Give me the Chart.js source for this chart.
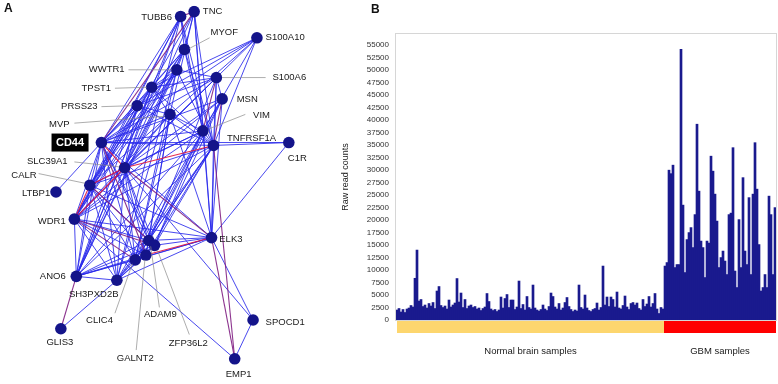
<!DOCTYPE html>
<html>
<head>
<meta charset="utf-8">
<script src="https://cdn.jsdelivr.net/npm/chart.js@4.4.0/dist/chart.umd.min.js"></script>
<style>
  body { margin: 0; background: #fff; }
  #wrap { position: relative; width: 778px; height: 384px; overflow: hidden; font-family: "Liberation Sans", Arial, sans-serif; }
  #netChart { position: absolute; left: 0; top: 0; }
  #barChart { position: absolute; left: 340px; top: 0; }
  .panel { position: absolute; font-weight: bold; font-size: 12px; color: #111; }
</style>
</head>
<body>
<div id="wrap">
  <canvas id="netChart" width="340" height="384"></canvas>
  <canvas id="barChart" width="438" height="384"></canvas>
  <div class="panel" style="left:4px;top:1px">A</div>
  <div class="panel" style="left:371px;top:2px">B</div>
</div>
<script>
// ---- Panel A: co-expression network ----
const geneNames = ['TUBB6', 'TNC', 'MYOF', 'S100A10', 'WWTR1', 'S100A6', 'TPST1', 'MSN', 'PRSS23', 'MVP',
  'VIM', 'CD44', 'TNFRSF1A', 'C1R', 'SLC39A1', 'CALR', 'LTBP1', 'WDR1', 'ELK3', 'ADAM9',
  'ZFP36L2', 'GALNT2', 'CLIC4', 'ANO6', 'SH3PXD2B', 'SPOCD1', 'GLIS3', 'EMP1'];
const geneX = [181, 195, 185, 260, 177, 218, 151, 224, 136, 170,
  204, 99, 215, 293, 123, 87, 52, 71, 213, 148,
  154, 145, 134, 73, 115, 256, 57, 237];
const geneY = [11, 6, 45, 33, 66, 74, 84, 96, 103, 112,
  129, 141, 144, 141, 167, 185, 192, 220, 239, 242,
  247, 257, 262, 279, 283, 324, 333, 364];

const blueEdges = [
  ['CD44', 'TUBB6'], ['CD44', 'MYOF'], ['CD44', 'WWTR1'], ['CD44', 'S100A6'], ['CD44', 'TPST1'],
  ['CD44', 'PRSS23'], ['CD44', 'MVP'], ['CD44', 'VIM'], ['CD44', 'TNFRSF1A'], ['CD44', 'C1R'],
  ['CD44', 'CALR'], ['CD44', 'LTBP1'], ['CD44', 'WDR1'], ['CD44', 'ELK3'], ['CD44', 'ADAM9'],
  ['CD44', 'ZFP36L2'], ['CD44', 'CLIC4'], ['CD44', 'ANO6'], ['CD44', 'SH3PXD2B'], ['CD44', 'S100A10'],
  ['CD44', 'MSN'],
  ['TUBB6', 'SLC39A1'], ['TUBB6', 'CALR'], ['TUBB6', 'WDR1'], ['TUBB6', 'TNFRSF1A'], ['TUBB6', 'VIM'],
  ['TUBB6', 'MYOF'], ['TUBB6', 'ANO6'], ['TUBB6', 'SH3PXD2B'],
  ['TNC', 'MYOF'], ['TNC', 'TNFRSF1A'], ['TNC', 'VIM'], ['TNC', 'SLC39A1'], ['TNC', 'ELK3'],
  ['TNC', 'WDR1'], ['TNC', 'CLIC4'],
  ['MYOF', 'WWTR1'], ['MYOF', 'TPST1'], ['MYOF', 'SLC39A1'], ['MYOF', 'TNFRSF1A'], ['MYOF', 'VIM'],
  ['MYOF', 'CALR'], ['MYOF', 'WDR1'], ['MYOF', 'ANO6'],
  ['S100A10', 'TPST1'], ['S100A10', 'PRSS23'], ['S100A10', 'VIM'], ['S100A10', 'SLC39A1'], ['S100A10', 'TNFRSF1A'],
  ['S100A10', 'CALR'],
  ['WWTR1', 'S100A6'], ['WWTR1', 'TPST1'], ['WWTR1', 'SLC39A1'], ['WWTR1', 'CALR'], ['WWTR1', 'WDR1'],
  ['WWTR1', 'ANO6'], ['WWTR1', 'SH3PXD2B'], ['WWTR1', 'TNFRSF1A'], ['WWTR1', 'CLIC4'],
  ['S100A6', 'TPST1'], ['S100A6', 'PRSS23'], ['S100A6', 'MSN'], ['S100A6', 'TNFRSF1A'], ['S100A6', 'SLC39A1'],
  ['S100A6', 'ELK3'], ['S100A6', 'WDR1'], ['S100A6', 'ADAM9'],
  ['TPST1', 'PRSS23'], ['TPST1', 'SLC39A1'], ['TPST1', 'CALR'], ['TPST1', 'WDR1'], ['TPST1', 'ANO6'],
  ['TPST1', 'MVP'], ['TPST1', 'TNFRSF1A'],
  ['MSN', 'VIM'], ['MSN', 'SLC39A1'], ['MSN', 'ELK3'], ['MSN', 'ADAM9'], ['MSN', 'ZFP36L2'], ['MSN', 'WDR1'],
  ['PRSS23', 'SLC39A1'], ['PRSS23', 'CALR'], ['PRSS23', 'WDR1'], ['PRSS23', 'ANO6'], ['PRSS23', 'TNFRSF1A'],
  ['PRSS23', 'MVP'],
  ['MVP', 'TNFRSF1A'], ['MVP', 'SLC39A1'], ['MVP', 'WDR1'], ['MVP', 'VIM'], ['MVP', 'ADAM9'], ['MVP', 'GALNT2'],
  ['MVP', 'ELK3'],
  ['VIM', 'TNFRSF1A'], ['VIM', 'SLC39A1'], ['VIM', 'CALR'], ['VIM', 'WDR1'], ['VIM', 'ANO6'], ['VIM', 'ADAM9'],
  ['VIM', 'ZFP36L2'], ['VIM', 'CLIC4'], ['VIM', 'ELK3'], ['VIM', 'SH3PXD2B'],
  ['TNFRSF1A', 'C1R'], ['TNFRSF1A', 'CALR'], ['TNFRSF1A', 'WDR1'], ['TNFRSF1A', 'ADAM9'], ['TNFRSF1A', 'ZFP36L2'],
  ['TNFRSF1A', 'GALNT2'], ['TNFRSF1A', 'CLIC4'], ['TNFRSF1A', 'ANO6'], ['TNFRSF1A', 'SH3PXD2B'], ['TNFRSF1A', 'ELK3'],
  ['C1R', 'ELK3'],
  ['SLC39A1', 'WDR1'], ['SLC39A1', 'ADAM9'], ['SLC39A1', 'ZFP36L2'], ['SLC39A1', 'GALNT2'], ['SLC39A1', 'CLIC4'],
  ['SLC39A1', 'ANO6'], ['SLC39A1', 'SH3PXD2B'], ['SLC39A1', 'SPOCD1'],
  ['CALR', 'ELK3'], ['CALR', 'ZFP36L2'], ['CALR', 'GALNT2'], ['CALR', 'CLIC4'], ['CALR', 'ANO6'], ['CALR', 'SH3PXD2B'],
  ['WDR1', 'ELK3'], ['WDR1', 'ADAM9'], ['WDR1', 'GALNT2'], ['WDR1', 'ANO6'], ['WDR1', 'SH3PXD2B'],
  ['ELK3', 'ADAM9'], ['ELK3', 'ZFP36L2'], ['ELK3', 'CLIC4'], ['ELK3', 'ANO6'], ['ELK3', 'SH3PXD2B'],
  ['ELK3', 'SPOCD1'],
  ['ADAM9', 'ZFP36L2'], ['ADAM9', 'GALNT2'], ['ADAM9', 'CLIC4'], ['ADAM9', 'ANO6'], ['ADAM9', 'SH3PXD2B'],
  ['ZFP36L2', 'GALNT2'], ['ZFP36L2', 'CLIC4'], ['ZFP36L2', 'ANO6'], ['ZFP36L2', 'SH3PXD2B'],
  ['GALNT2', 'CLIC4'], ['GALNT2', 'ANO6'], ['GALNT2', 'SH3PXD2B'],
  ['CLIC4', 'ANO6'], ['CLIC4', 'SH3PXD2B'], ['ANO6', 'SH3PXD2B'],
  ['SH3PXD2B', 'GLIS3'], ['SPOCD1', 'EMP1'], ['WDR1', 'EMP1']
];
const purpleEdges = [
  ['TNC', 'CD44'], ['MSN', 'TNFRSF1A'], ['S100A6', 'VIM'], ['ELK3', 'EMP1'], ['SLC39A1', 'ELK3'],
  ['WDR1', 'ZFP36L2'], ['CD44', 'GALNT2'], ['ANO6', 'GLIS3'], ['WDR1', 'CLIC4'], ['TUBB6', 'TNC'],
  ['TNFRSF1A', 'EMP1'], ['CALR', 'ADAM9']
];
const redEdges = [
  ['SLC39A1', 'TNFRSF1A'], ['CALR', 'SLC39A1'], ['WDR1', 'SLC39A1'], ['GALNT2', 'ELK3'],
  ['CD44', 'SLC39A1'], ['WDR1', 'CALR']
];

// label anchors for the gene names (layout only)
const geneLabels = {
  TUBB6: { x: 172, y: 12, align: 'right' },
  TNC: { x: 204, y: 6, align: 'left' },
  MYOF: { x: 212, y: 27, align: 'left', lead: [211, 33, 190, 44] },
  S100A10: { x: 269, y: 33, align: 'left' },
  WWTR1: { x: 123, y: 66, align: 'right', lead: [127, 66, 172, 66] },
  S100A6: { x: 276, y: 74, align: 'left', lead: [269, 74, 224, 74] },
  TPST1: { x: 109, y: 85, align: 'right', lead: [113, 85, 146, 84] },
  MSN: { x: 239, y: 97, align: 'left' },
  PRSS23: { x: 95, y: 104, align: 'right', lead: [99, 104, 131, 103] },
  MVP: { x: 66, y: 122, align: 'right', lead: [71, 121, 164, 114] },
  VIM: { x: 256, y: 113, align: 'left', lead: [248, 112, 210, 127] },
  TNFRSF1A: { x: 229, y: 137, align: 'left' },
  C1R: { x: 292, y: 157, align: 'left' },
  SLC39A1: { x: 64, y: 160, align: 'right', lead: [71, 161, 117, 166] },
  CALR: { x: 32, y: 175, align: 'right', lead: [34, 173, 82, 183] },
  LTBP1: { x: 46, y: 193, align: 'right' },
  WDR1: { x: 62, y: 222, align: 'right' },
  ELK3: { x: 221, y: 241, align: 'left' },
  ANO6: { x: 62, y: 279, align: 'right' },
  SH3PXD2B: { x: 91, y: 298, align: 'center' },
  CLIC4: { x: 97, y: 324, align: 'center', lead: [113, 317, 131, 266] },
  ADAM9: { x: 160, y: 318, align: 'center', lead: [159, 311, 150, 248] },
  ZFP36L2: { x: 189, y: 348, align: 'center', lead: [190, 339, 157, 252] },
  GALNT2: { x: 134, y: 364, align: 'center', lead: [135, 355, 144, 262] },
  GLIS3: { x: 56, y: 347, align: 'center' },
  SPOCD1: { x: 269, y: 326, align: 'left' },
  EMP1: { x: 241, y: 380, align: 'center' }
};

const nodeIndex = name => geneNames.indexOf(name);

const edgePlugin = {
  id: 'edges',
  beforeDatasetsDraw(chart) {
    const ctx = chart.ctx;
    const xs = chart.scales.x, ys = chart.scales.y;
    const drawSet = (list, color, width) => {
      ctx.strokeStyle = color;
      ctx.lineWidth = width;
      list.forEach(([a, b]) => {
        const i = nodeIndex(a), j = nodeIndex(b);
        ctx.beginPath();
        ctx.moveTo(xs.getPixelForValue(geneX[i]), ys.getPixelForValue(geneY[i]));
        ctx.lineTo(xs.getPixelForValue(geneX[j]), ys.getPixelForValue(geneY[j]));
        ctx.stroke();
      });
    };
    ctx.save();
    drawSet(blueEdges, 'rgba(40, 40, 235, 0.85)', 1);
    drawSet(purpleEdges, 'rgba(128, 30, 130, 0.9)', 1.1);
    drawSet(redEdges, 'rgba(225, 20, 60, 0.9)', 1.1);
    ctx.restore();
  },
  afterDatasetsDraw(chart) {
    const ctx = chart.ctx;
    const xs = chart.scales.x, ys = chart.scales.y;
    ctx.save();
    // leader lines
    ctx.strokeStyle = '#8a8a8a';
    ctx.lineWidth = 0.7;
    Object.values(geneLabels).forEach(l => {
      if (!l.lead) return;
      ctx.beginPath();
      ctx.moveTo(xs.getPixelForValue(l.lead[0]), ys.getPixelForValue(l.lead[1]));
      ctx.lineTo(xs.getPixelForValue(l.lead[2]), ys.getPixelForValue(l.lead[3]));
      ctx.stroke();
    });
    ctx.font = '9.5px "Liberation Sans", Arial, sans-serif';
    ctx.fillStyle = '#1a1a1a';
    ctx.textBaseline = 'middle';
    Object.entries(geneLabels).forEach(([name, l]) => {
      ctx.textAlign = l.align;
      ctx.fillText(name, xs.getPixelForValue(l.x), ys.getPixelForValue(l.y));
    });
    // highlighted CD44 box
    const cx = xs.getPixelForValue(66.5), cy = ys.getPixelForValue(141);
    ctx.fillStyle = '#000';
    ctx.fillRect(cx - 18.5, cy - 9, 37, 18);
    ctx.fillStyle = '#fff';
    ctx.font = 'bold 11px "Liberation Sans", Arial, sans-serif';
    ctx.textAlign = 'center';
    ctx.fillText('CD44', cx, cy + 0.5);
    ctx.restore();
  }
};

new Chart(document.getElementById('netChart'), {
  type: 'scatter',
  data: {
    datasets: [{
      data: geneNames.map((n, i) => ({ x: geneX[i], y: geneY[i] })),
      pointRadius: 5.8,
      pointHoverRadius: 5.8,
      backgroundColor: '#14148a',
      borderWidth: 0
    }]
  },
  options: {
    responsive: false,
    devicePixelRatio: 1,
    animation: false,
    layout: { padding: 0 },
    plugins: { legend: { display: false }, tooltip: { enabled: false } },
    scales: {
      x: { display: false, min: 0, max: 340 },
      y: { display: false, min: 0, max: 384, reverse: true }
    }
  },
  plugins: [edgePlugin]
});

// ---- Panel B: raw read counts ----
const normalCounts = [
  2000, 2300, 1600, 2100, 1500, 2200, 2400, 2900, 2600, 8350,
  14000, 3800, 4100, 2700, 3000, 2400, 3300, 2800, 3500, 2300,
  5800, 6700, 2900, 2500, 2800, 2200, 4000, 2600, 3000, 3400,
  8300, 3600, 5400, 2500, 4100, 2300, 2800, 3000, 2500, 2700,
  2200, 2400, 1900, 2300, 2600, 5300, 3700, 2200, 1900, 2100,
  1700, 2000, 4600, 2400, 4300, 5100, 2500, 4000, 4000, 2100,
  2600, 7800, 2300, 3100, 2000, 4700, 2500, 2200, 7000, 2400,
  2000, 1800, 2100, 3000, 2200, 1900, 2700, 5400, 4700, 2600,
  2200, 3300, 2000, 2400, 3500, 4500, 2700, 2100, 1700, 2000,
  1800, 7000, 2500, 2200, 5000, 2400, 1900, 1700, 2100, 2300,
  3400, 2000, 2500, 10800, 3000, 4600, 2700, 4600, 4100, 2600,
  5600, 2400, 2200, 2900, 4800, 2600, 2100, 3300, 3500, 3000,
  3400, 2300, 2000, 4100, 2700, 3200, 4700, 2600, 3300, 5300,
  2200, 1300, 2500, 2200
];
const gbmCounts = [
  10800, 11500, 30000, 29300, 31000, 10500, 11100, 11100, 54200, 23000,
  9500, 16100, 17500, 18500, 14500, 21100, 39200, 25800, 15800, 14500,
  8500, 15800, 15400, 32800, 29800, 25200, 19800, 10500, 12500, 13800,
  11800, 9100, 21100, 21400, 34500, 9800, 6500, 20100, 10500, 28500,
  13800, 11100, 24500, 9100, 25200, 35500, 26200, 15100, 5800, 6500,
  9100, 6500, 24800, 21100, 9100, 22500
];
const groupNames = ['Normal brain samples', 'GBM samples'];
const groupColors = ['#fdd66e', '#ff0000'];
const yTickValues = [0, 2500, 5000, 7500, 10000, 12500, 15000, 17500, 20000, 22500, 25000, 27500,
  30000, 32500, 35000, 37500, 40000, 42500, 45000, 47500, 50000, 52500, 55000];

const allCounts = normalCounts.concat(gbmCounts);
const sampleLabels = allCounts.map((v, i) => i);

const groupBarPlugin = {
  id: 'groupBar',
  afterDraw(chart) {
    const ctx = chart.ctx;
    const area = chart.chartArea;
    const xs = chart.scales.x;
    const split = (xs.getPixelForValue(normalCounts.length - 1) + xs.getPixelForValue(normalCounts.length)) / 2;
    const segs = [[area.left + 1, split], [split, area.right]];
    ctx.save();
    ctx.strokeStyle = '#d6d6d6';
    ctx.lineWidth = 1;
    ctx.strokeRect(area.left - 0.5, area.top - 0.5, area.right - area.left + 1, area.bottom - area.top + 1);
    segs.forEach((s, k) => {
      ctx.fillStyle = groupColors[k];
      ctx.fillRect(s[0], area.bottom + 1, s[1] - s[0], 12);
      ctx.fillStyle = '#1a1a1a';
      ctx.font = '9.5px "Liberation Sans", Arial, sans-serif';
      ctx.textAlign = 'center';
      ctx.textBaseline = 'middle';
      ctx.fillText(groupNames[k], (s[0] + s[1]) / 2, area.bottom + 31);
    });
    ctx.restore();
  }
};

new Chart(document.getElementById('barChart'), {
  type: 'bar',
  data: {
    labels: sampleLabels,
    datasets: [{
      data: allCounts,
      backgroundColor: '#1a1a8e',
      borderWidth: 0,
      barPercentage: 1,
      categoryPercentage: 1
    }]
  },
  options: {
    responsive: false,
    devicePixelRatio: 1,
    animation: false,
    layout: { padding: { top: 34, right: 2, bottom: 64, left: 0 } },
    plugins: { legend: { display: false }, tooltip: { enabled: false } },
    scales: {
      x: { display: false },
      y: {
        min: 0,
        max: 57260,
        grid: { display: false, drawTicks: false },
        border: { display: false },
        afterBuildTicks(scale) {
          scale.ticks = yTickValues.map(v => ({ value: v }));
        },
        ticks: {
          padding: 7,
          color: '#333',
          font: { size: 8, family: '"Liberation Sans", Arial, sans-serif' },
          callback: v => String(v)
        },
        title: {
          display: true,
          text: 'Raw read counts',
          color: '#222',
          padding: { top: 0, bottom: 0 },
          font: { size: 9, family: '"Liberation Sans", Arial, sans-serif' }
        },
        afterFit(scale) { scale.width = 56; }
      }
    }
  },
  plugins: [groupBarPlugin]
});
</script>
</body>
</html>
